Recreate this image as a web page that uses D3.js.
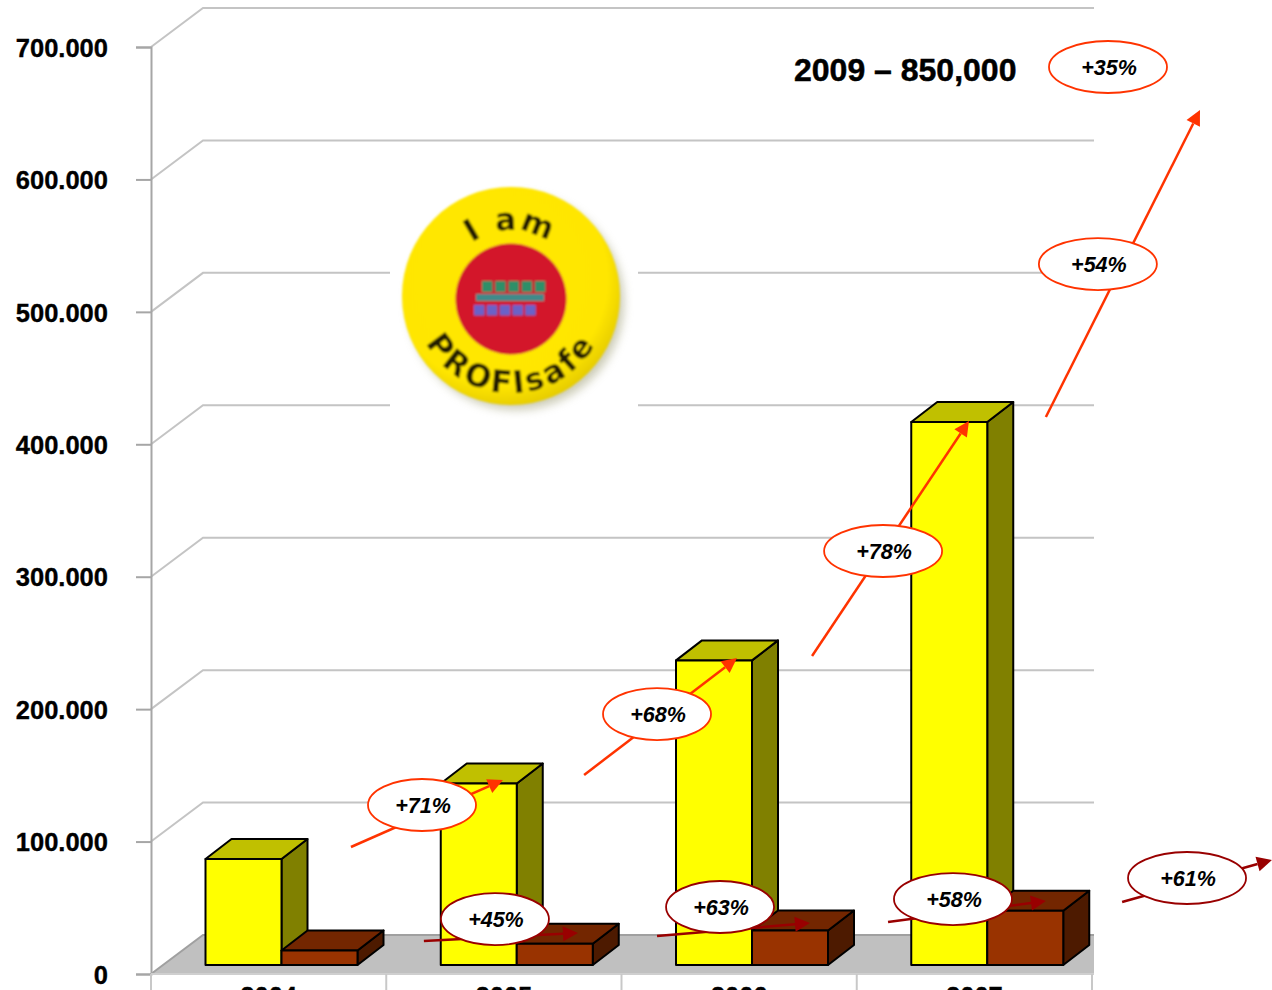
<!DOCTYPE html>
<html>
<head>
<meta charset="utf-8">
<title>PROFIsafe nodes 2004-2007</title>
<script src="https://cdn.jsdelivr.net/npm/d3@7/dist/d3.min.js"></script>
<style>
  html, body { margin: 0; padding: 0; background: #fff; overflow: hidden; }
  svg { display: block; }
  text { font-family: "Liberation Sans", Arial, sans-serif; }
</style>
</head>
<body>
<script>
// Installed nodes per year
const years = ["2004", "2005", "2006", "2007"];
const seriesNames = ["total", "process"];
const totalNodes = [80000, 137000, 230000, 410000];
const processNodes = [11000, 16000, 26000, 41000];
const valueTicks = [0, 100000, 200000, 300000, 400000, 500000, 600000, 700000];
const forecastLabel = "2009 \u2013 850,000";

// Growth call-outs, in chart units: [year slot, value]
const growthLabels = ["+71%", "+68%", "+78%", "+54%", "+35%", "+45%", "+63%", "+58%", "+61%"];
const growthCentres = [[1.152, 127600], [2.151, 196300], [3.112, 319400], [4.025, 536100], [4.068, 684900],
                       [1.462, 41500], [2.419, 50600], [3.409, 56600], [4.404, 72500]];
const growthFrom = [[0.850, 95900], [1.841, 150300], [2.810, 240100], [3.804, 420600], null,
                    [1.160, 24900], [2.151, 28700], [3.133, 39300], [4.128, 54400]];
const growthTo = [[1.496, 146500], [2.491, 238600], [3.477, 417600], [4.459, 652400], null,
                  [1.815, 31000], [2.801, 38500], [3.804, 55100], [4.765, 86100]];
const growthSeries = ["total", "total", "total", "total", "total", "process", "process", "process", "process"];
const wideCallouts = ["+78%", "+54%", "+35%", "+58%", "+61%"];

const width = 1272, height = 990;
const left = 151, right = 1092, zeroY = 974, topY = 47;
const depthX = 52, depthY = 39;        // wall and floor depth
const barDepthX = 26, barDepthY = 20;  // column depth
const barShiftY = 9;                   // columns stand slightly back on the floor

const palette = {
  total: { front: "#ffff00", top: "#c0c000", side: "#808000" },
  process: { front: "#993300", top: "#732600", side: "#4d1a00" }
};
const arrowColour = { total: "#ff3300", process: "#990000" };

const y = d3.scaleLinear().domain([0, 700000]).range([zeroY, topY]);
const x0 = d3.scaleBand().domain(years).range([left, right]);
const x1 = d3.scaleBand().domain(seriesNames).range([54.5, 206.5]);
const slot = d3.scaleLinear().domain([0, 4]).range([left, right]);

const svg = d3.select("body").append("svg")
  .attr("width", width).attr("height", height)
  .attr("viewBox", `0 0 ${width} ${height}`);

const defs = svg.append("defs");
defs.append("filter").attr("id", "soft").append("feGaussianBlur").attr("stdDeviation", 0.9);
defs.append("filter").attr("id", "shadow")
  .attr("x", "-20%").attr("y", "-20%").attr("width", "140%").attr("height", "140%")
  .append("feGaussianBlur").attr("stdDeviation", 5);
const discFill = defs.append("radialGradient").attr("id", "disc")
  .attr("cx", "45%").attr("cy", "42%").attr("r", "60%");
discFill.append("stop").attr("offset", "0%").attr("stop-color", "#ffe800");
discFill.append("stop").attr("offset", "82%").attr("stop-color", "#ffe600");
discFill.append("stop").attr("offset", "100%").attr("stop-color", "#e4ca00");

// Floor
svg.append("polygon")
  .attr("points", [[left, zeroY], [left + depthX, zeroY - depthY], [1094, zeroY - depthY], [1094, zeroY]].join(" "))
  .attr("fill", "#c0c0c0");
svg.append("path")
  .attr("d", `M${left},${zeroY}L${left + depthX},${zeroY - depthY}H1094`)
  .attr("fill", "none").attr("stroke", "#a0a0a0").attr("stroke-width", 2);

// Wall gridlines, each folding back from the value axis
svg.append("g").selectAll("path")
  .data(valueTicks.filter(d => d > 0))
  .join("path")
  .attr("d", d => `M${left},${y(d)}L${left + depthX},${y(d) - depthY}H1094`)
  .attr("fill", "none").attr("stroke", "#c4c4c4").attr("stroke-width", 2);

// Value axis
const thousands = d3.formatLocale({ decimal: ",", thousands: ".", grouping: [3], currency: ["", ""] }).format(",");
const yAxis = svg.append("g").attr("transform", `translate(${left},0)`)
  .call(d3.axisLeft(y).tickValues(valueTicks).tickFormat(thousands).tickSize(15).tickPadding(28));
yAxis.select(".domain").attr("stroke", "#a6a6a6").attr("stroke-width", 2);
yAxis.selectAll("line").attr("stroke", "#a6a6a6").attr("stroke-width", 2);
yAxis.selectAll("text")
  .attr("font-family", "Liberation Sans, Arial, sans-serif")
  .attr("font-size", 25.5).attr("font-weight", 700).attr("fill", "#000")
  .attr("stroke", "#000").attr("stroke-width", 0.35)
  .attr("dy", "0.36em");

// Category axis, cut off by the bottom of the page
svg.append("line").attr("x1", left).attr("x2", 1094).attr("y1", zeroY).attr("y2", zeroY)
  .attr("stroke", "#cfcfcf").attr("stroke-width", 2);
svg.append("g").selectAll("line")
  .data([...years.map(d => x0(d)), right])
  .join("line")
  .attr("x1", d => d).attr("x2", d => d).attr("y1", zeroY).attr("y2", height)
  .attr("stroke", "#c8c8c8").attr("stroke-width", 2);
const xAxis = svg.append("g").attr("transform", `translate(0,${zeroY})`)
  .call(d3.axisBottom(x0).tickSize(0).tickPadding(13));
xAxis.select(".domain").remove();
xAxis.selectAll("text")
  .attr("font-family", "Liberation Sans, Arial, sans-serif")
  .attr("font-size", 25.5).attr("font-weight", 700).attr("fill", "#000")
  .attr("stroke", "#000").attr("stroke-width", 0.35);

// Badge on a white patch that interrupts the gridlines
const badge = svg.append("g");
const cx = 511, cy = 296;
badge.append("rect").attr("x", 390).attr("y", 180).attr("width", 248).attr("height", 248).attr("fill", "#fff");
badge.append("circle").attr("cx", cx + 5).attr("cy", cy + 6).attr("r", 108)
  .attr("fill", "#9a9a70").attr("opacity", 0.5).attr("filter", "url(#shadow)");
const badgeBody = badge.append("g").attr("filter", "url(#soft)");
badgeBody.append("circle").attr("cx", cx).attr("cy", cy).attr("r", 109).attr("fill", "url(#disc)");
badgeBody.append("circle").attr("cx", cx).attr("cy", cy + 3).attr("r", 55.5).attr("fill", "#d3132b");

const chipXs = d3.range(5);
badgeBody.selectAll(".chip-top").data(chipXs).join("rect")
  .attr("x", i => 482 + i * 13.2).attr("y", 281).attr("width", 10.5).attr("height", 11).attr("fill", "#2f8f68");
badgeBody.append("rect").attr("x", 476).attr("y", 294).attr("width", 68).attr("height", 7).attr("fill", "#3f8a8a");
badgeBody.selectAll(".chip-low").data(chipXs).join("rect")
  .attr("x", i => 474 + i * 12.8).attr("y", 305).attr("width", 10.5).attr("height", 10.5).attr("fill", "#6a62c8");

const upper = 66, lower = 97;
defs.append("path").attr("id", "arc-upper")
  .attr("d", `M${cx - upper},${cy}A${upper},${upper} 0 0 1 ${cx + upper},${cy}`);
defs.append("path").attr("id", "arc-lower")
  .attr("d", `M${cx - lower},${cy}A${lower},${lower} 0 0 0 ${cx + lower},${cy}`);
badgeBody.append("text")
  .attr("font-size", 31).attr("font-weight", 700).attr("fill", "#241c00")
  .attr("letter-spacing", 2).attr("text-anchor", "middle")
  .style("font-family", "'DejaVu Sans', sans-serif")
  .append("textPath").attr("href", "#arc-upper").attr("startOffset", "50%").text("I am");
badgeBody.append("text")
  .attr("font-size", 31).attr("font-weight", 700).attr("fill", "#241c00")
  .attr("letter-spacing", 3).attr("text-anchor", "middle")
  .style("font-family", "'DejaVu Sans', sans-serif")
  .append("textPath").attr("href", "#arc-lower").attr("startOffset", "50%").text("PROFIsafe");

// Columns
const rows = years.flatMap((year, i) => [
  { year, series: "total", value: totalNodes[i] },
  { year, series: "process", value: processNodes[i] }
]);
const bars = svg.append("g").attr("stroke", "#000").attr("stroke-width", 2).attr("stroke-linejoin", "round")
  .selectAll("g").data(rows).join("g");
const barLeft = d => x0(d.year) + x1(d.series);
const barRight = d => barLeft(d) + x1.bandwidth();
const barTop = d => y(d.value) - barShiftY;
const barBase = y(0) - barShiftY;

bars.append("polygon")
  .attr("fill", d => palette[d.series].side)
  .attr("points", d => [[barRight(d), barTop(d)], [barRight(d) + barDepthX, barTop(d) - barDepthY],
    [barRight(d) + barDepthX, barBase - barDepthY], [barRight(d), barBase]].join(" "));
bars.append("polygon")
  .attr("fill", d => palette[d.series].top)
  .attr("points", d => [[barLeft(d), barTop(d)], [barLeft(d) + barDepthX, barTop(d) - barDepthY],
    [barRight(d) + barDepthX, barTop(d) - barDepthY], [barRight(d), barTop(d)]].join(" "));
bars.append("rect")
  .attr("fill", d => palette[d.series].front)
  .attr("x", barLeft).attr("y", barTop)
  .attr("width", x1.bandwidth()).attr("height", d => barBase - barTop(d));

// Forecast headline
svg.append("text").attr("x", 794).attr("y", 81)
  .attr("font-size", 32).attr("font-weight", 700).attr("fill", "#000")
  .attr("stroke", "#000").attr("stroke-width", 0.5).text(forecastLabel);

// Growth arrows and their call-outs
const toPoint = p => [slot(p[0]), y(p[1])];
const callouts = growthLabels.map((label, i) => ({
  label,
  series: growthSeries[i],
  centre: toPoint(growthCentres[i]),
  from: growthFrom[i] && toPoint(growthFrom[i]),
  to: growthTo[i] && toPoint(growthTo[i])
}));

const headLength = 15, headHalf = 7.5;
const arrows = svg.append("g").selectAll("g").data(callouts.filter(d => d.from)).join("g");
const unit = d => {
  const dx = d.to[0] - d.from[0], dy = d.to[1] - d.from[1], len = Math.hypot(dx, dy);
  return [dx / len, dy / len];
};
arrows.append("line")
  .attr("x1", d => d.from[0]).attr("y1", d => d.from[1])
  .attr("x2", d => d.to[0] - unit(d)[0] * headLength)
  .attr("y2", d => d.to[1] - unit(d)[1] * headLength)
  .attr("stroke", d => arrowColour[d.series]).attr("stroke-width", 2.5);
arrows.append("polygon")
  .attr("fill", d => arrowColour[d.series])
  .attr("points", d => {
    const [ux, uy] = unit(d);
    const bx = d.to[0] - ux * headLength, by = d.to[1] - uy * headLength;
    return [d.to, [bx - uy * headHalf, by + ux * headHalf], [bx + uy * headHalf, by - ux * headHalf]].join(" ");
  });

const bubbles = svg.append("g").selectAll("g").data(callouts).join("g")
  .attr("transform", d => `translate(${d.centre})`);
bubbles.append("ellipse")
  .attr("rx", d => wideCallouts.includes(d.label) ? 59 : 54).attr("ry", 26)
  .attr("fill", "#fff").attr("stroke", d => arrowColour[d.series]).attr("stroke-width", 1.8);
bubbles.append("text")
  .attr("text-anchor", "middle").attr("x", 1).attr("y", 8)
  .attr("font-size", 21.5).attr("font-weight", 700).attr("font-style", "italic").attr("fill", "#000")
  .text(d => d.label);
</script>
</body>
</html>
